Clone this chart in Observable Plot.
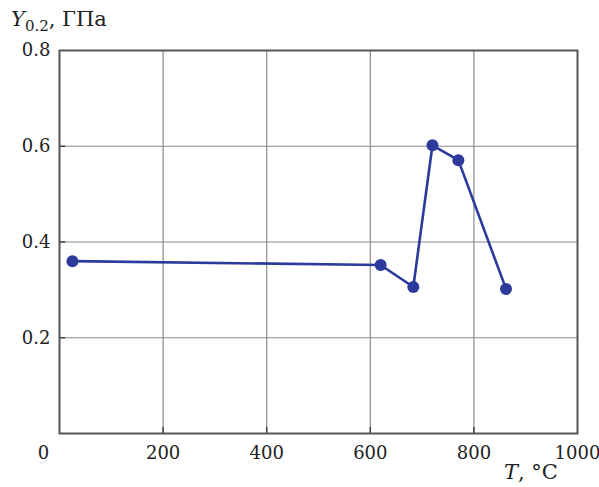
<!DOCTYPE html>
<html><head><meta charset="utf-8">
<script src="https://cdn.jsdelivr.net/npm/d3@7"></script>
<script src="https://cdn.jsdelivr.net/npm/@observablehq/plot@0.6"></script>
<style>
body{margin:0;background:#fff;}
#wrap{position:relative;width:599px;height:487px;color:#222;}
.lab{position:absolute;font-size:21px;white-space:nowrap;font-family:"DejaVu Serif",serif;}
</style></head>
<body><div id="wrap"></div>
<script>
const temps = [25, 620, 683, 720, 770, 862];
const yieldGPa = [0.36, 0.352, 0.306, 0.602, 0.571, 0.302];
const xTicks = [200, 400, 600, 800, 1000];
const yTicks = [0.2, 0.4, 0.6, 0.8];
const xGrid = [200, 400, 600, 800];
const yGrid = [0.2, 0.4, 0.6];
const data = temps.map((t, i) => ({t, y: yieldGPa[i]}));
const blue = "#2c3a9c";
const font = "DejaVu Serif";

const chart = Plot.plot({
  width: 599, height: 487,
  marginLeft: 59, marginRight: 22, marginTop: 50, marginBottom: 54,
  style: {fontFamily: font, fontSize: "18px", color: "#222", background: "#fff"},
  x: {domain: [0, 1000], axis: null},
  y: {domain: [0, 0.8], axis: null},
  marks: [
    Plot.ruleX(xGrid, {stroke: "#8a8a8a", strokeWidth: 1.2}),
    Plot.ruleY(yGrid, {stroke: "#8a8a8a", strokeWidth: 1.2}),
    Plot.ruleX(xGrid, {y1: 0, y2: 0.0125, stroke: "#444", strokeWidth: 1.5}),
    Plot.ruleY(yGrid, {x1: 0, x2: 12, stroke: "#444", strokeWidth: 1.5}),
    Plot.frame({stroke: "#555", strokeWidth: 2}),
    Plot.text(xTicks, {x: d => d, y: 0, dy: 20, text: d => String(d), fill: "#222", fontSize: 18, fontFamily: font}),
    Plot.text([0], {x: 0, y: 0, dx: -16, dy: 20, text: d => String(d), fill: "#222", fontSize: 18, fontFamily: font}),
    Plot.text(yTicks, {x: 0, y: d => d, dx: -9, textAnchor: "end", text: d => d.toFixed(1), fill: "#222", fontSize: 18, fontFamily: font}),
    Plot.line(data, {x: "t", y: "y", stroke: blue, strokeWidth: 2.6}),
    Plot.dot(data, {x: "t", y: "y", r: 6, fill: blue, stroke: "none"})
  ]
});
const wrap = document.getElementById("wrap");
wrap.appendChild(chart);
const t1 = document.createElement("div");
t1.className = "lab";
t1.style.left = "11px"; t1.style.top = "7px";
t1.innerHTML = '<i>Y</i><sub style="font-size:15px;vertical-align:-5px">0.2</sub>, ГПа';
wrap.appendChild(t1);
const t2 = document.createElement("div");
t2.className = "lab";
t2.style.left = "504px"; t2.style.top = "460px";
t2.innerHTML = '<i>T</i>, °C';
wrap.appendChild(t2);
</script></body></html>
